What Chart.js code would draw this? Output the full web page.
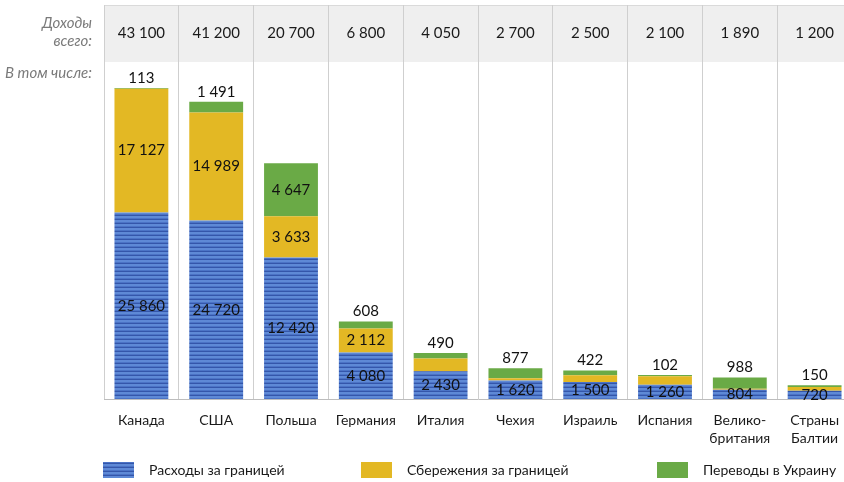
<!DOCTYPE html>
<html><head><meta charset="utf-8">
<script src="https://cdn.jsdelivr.net/npm/chart.js@4/dist/chart.umd.min.js"></script>
<style>
html,body{margin:0;padding:0;background:#fff;overflow:hidden;width:844px;height:482px;}
#wrap{width:852px;height:482px;position:relative;}
</style></head>
<body><div id="wrap"><canvas id="c" width="852" height="482"></canvas></div>
<script>
// ---- data ----
const categories = ['Канада','США','Польша','Германия','Италия','Чехия','Израиль','Испания',['Велико-','британия'],['Страны','Балтии']];
const totals    = [43100, 41200, 20700, 6800, 4050, 2700, 2500, 2100, 1890, 1200];
const spending  = [25860, 24720, 12420, 4080, 2430, 1620, 1500, 1260, 804, 720];
const savings   = [17127, 14989, 3633, 2112, 1130, 203, 578, 738, 98, 330];
const transfers = [113, 1491, 4647, 608, 490, 877, 422, 102, 988, 150];
const seriesNames = ['Расходы за границей','Сбережения за границей','Переводы в Украину'];
const headerLabel = ['Доходы','всего:'];
const subLabel = 'В том числе:';
// Canada and USA are drawn on a compressed scale in the original
const compressedIdx = [0, 1];

const FONT = 'Lato, "Open Sans", sans-serif';
const fmt = v => String(v).replace(/\B(?=(\d{3})+(?!\d))/g, ' ');

function stripePattern(ctx){
  const c = document.createElement('canvas'); c.width = 4; c.height = 4;
  const g = c.getContext('2d');
  const rows = ['#5e89d6','#5e89d6','#4b73c6','#3456aa'];
  rows.forEach((col,i)=>{g.fillStyle=col; g.fillRect(0,i,4,1);});
  return ctx.createPattern(c,'repeat');
}
const ctx = document.getElementById('c').getContext('2d');
const blue = stripePattern(ctx);
const yellow = '#e3b824';
const green = '#6aaa46';
const colors = [blue, yellow, green];
const series = [spending, savings, transfers];

const split = (arr, big) => arr.map((v,i) => (compressedIdx.includes(i) === big) ? v : null);

const datasets = [];
[true,false].forEach(big => {
  series.forEach((arr,k) => {
    datasets.push({
      label: seriesNames[k],
      data: split(arr, big),
      backgroundColor: colors[k],
      yAxisID: big ? 'yBig' : 'y',
      stack: 's',
      seriesIndex: k,
      barPercentage: 0.72,
      categoryPercentage: 1.0,
      borderWidth: 0
    });
  });
});

const decor = {
  id: 'decor',
  beforeDraw(chart){
    const {ctx, chartArea:a} = chart;
    ctx.save();
    ctx.fillStyle = '#efefef';
    ctx.fillRect(a.left, a.top, a.right - a.left, 57);
    ctx.fillStyle = '#dadada';
    ctx.fillRect(a.left, a.top, a.right - a.left, 1);
    ctx.restore();
  },
  afterDraw(chart){
    const {ctx, scales:{x}} = chart;
    ctx.save();
    // header totals
    ctx.fillStyle = '#1a1a1a';
    ctx.font = '15px ' + FONT;
    ctx.textAlign = 'center'; ctx.textBaseline = 'middle';
    totals.forEach((v,i)=> ctx.fillText(fmt(v), x.getPixelForValue(i), 33));
    // left labels
    ctx.fillStyle = '#7a7a7a';
    ctx.font = 'italic 15px ' + FONT;
    ctx.textAlign = 'right';
    ctx.fillText(headerLabel[0], 92, 23);
    ctx.fillText(headerLabel[1], 92, 41);
    ctx.fillText(subLabel, 92, 73);
    // legend
    const items = [[103,149],[361,407],[657,703]];
    ctx.font = '14px ' + FONT;
    ctx.textAlign = 'left';
    items.forEach(([bx,tx],k)=>{
      ctx.fillStyle = colors[k];
      ctx.fillRect(bx, 462, 31, 16);
      ctx.fillStyle = '#1a1a1a';
      ctx.fillText(seriesNames[k], tx, 470);
    });
    ctx.restore();
  },
  afterDatasetsDraw(chart){
    const {ctx} = chart;
    ctx.save();
    ctx.font = '15px ' + FONT;
    ctx.fillStyle = '#111';
    ctx.textAlign = 'center'; ctx.textBaseline = 'middle';
    chart.data.datasets.forEach((ds, di) => {
      const meta = chart.getDatasetMeta(di);
      meta.data.forEach((bar, i) => {
        const v = ds.data[i];
        if (v === null || v === undefined) return;
        const top = Math.min(bar.y, bar.base), bot = Math.max(bar.y, bar.base);
        const h = bot - top, cx = bar.x;
        const k = ds.seriesIndex;
        if (k === 0) ctx.fillText(fmt(v), cx, (top+bot)/2);
        else if (k === 1) { if (h >= 18) ctx.fillText(fmt(v), cx, (top+bot)/2); }
        else { if (h >= 25) ctx.fillText(fmt(v), cx, (top+bot)/2); else ctx.fillText(fmt(v), cx, top - 10); }
      });
    });
    ctx.restore();
  }
};

new Chart(ctx, {
  type: 'bar',
  data: { labels: categories, datasets },
  options: {
    responsive: false,
    animation: false,
    layout: { padding: { left: 104, top: 5, right: 0, bottom: 0 } },
    plugins: { legend: { display: false }, tooltip: { enabled: false } },
    scales: {
      x: {
        stacked: true,
        offset: true,
        grid: { offset: true, color: '#cfcfcf', drawTicks: false, lineWidth: 1 },
        border: { color: '#bdbdbd', width: 1 },
        ticks: { color: '#1a1a1a', font: { family: FONT, size: 14, lineHeight: 1.3 }, padding: 12, maxRotation: 0, autoSkip: false },
        afterFit(s){ s.height = 83; }
      },
      y: { stacked: true, display: false, min: 0, max: 34600 },
      yBig: { stacked: true, display: false, min: 0, max: 54600 }
    }
  },
  plugins: [decor]
});
</script>
</body></html>
